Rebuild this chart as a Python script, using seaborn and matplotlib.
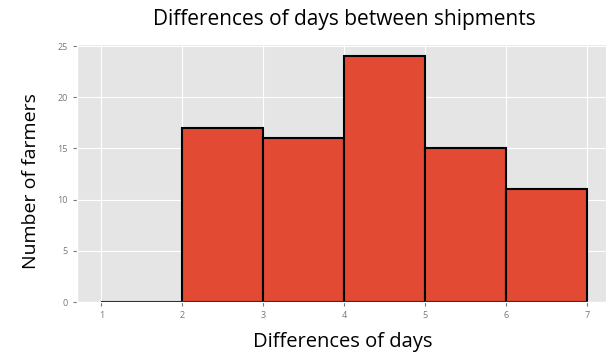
import matplotlib
matplotlib.use("Agg")
import matplotlib.pyplot as plt
import seaborn as sns
import pandas as pd

bin_edges = [1, 2, 3, 4, 5, 6, 7]
bin_centers = [1.5, 2.5, 3.5, 4.5, 5.5, 6.5]
counts = [0, 17, 16, 24, 15, 11]
title = "Differences of days between shipments"
xlabel = "Differences of days"
ylabel = "Number of farmers"

plt.style.use("ggplot")
plt.rcParams["font.family"] = ["Open Sans", "DejaVu Sans"]

df = pd.DataFrame({"days": bin_centers, "n": counts})

fig = plt.figure(figsize=(6.06, 3.53), dpi=100)
ax = fig.add_axes([77 / 606, 1 - 302 / 353, (611 - 77) / 606, (302 - 44) / 353])
sns.histplot(data=df, x="days", weights="n", bins=bin_edges, ax=ax,
             color="#E24A33", edgecolor="black", linewidth=1.5, alpha=1)
ax.set_xlim(0.7, 7.3)
ax.set_ylim(0, 25.2)
ax.set_xticks([1, 2, 3, 4, 5, 6, 7])
ax.set_yticks([0, 5, 10, 15, 20, 25])
ax.tick_params(labelsize=6.5, colors="#777777", length=3)
ax.set_xlabel("")
ax.set_ylabel("")
fig.text(344 / 606, 1 - 19 / 353, title, ha="center", va="center", fontsize=15, color="black")
fig.text(343 / 606, 1 - 342 / 353, xlabel, ha="center", va="center", fontsize=14.5, color="black")
fig.text(31 / 606, 1 - 181 / 353, ylabel, ha="center", va="center", rotation=90, fontsize=14, color="black")
fig.savefig("out.png", dpi=100)
